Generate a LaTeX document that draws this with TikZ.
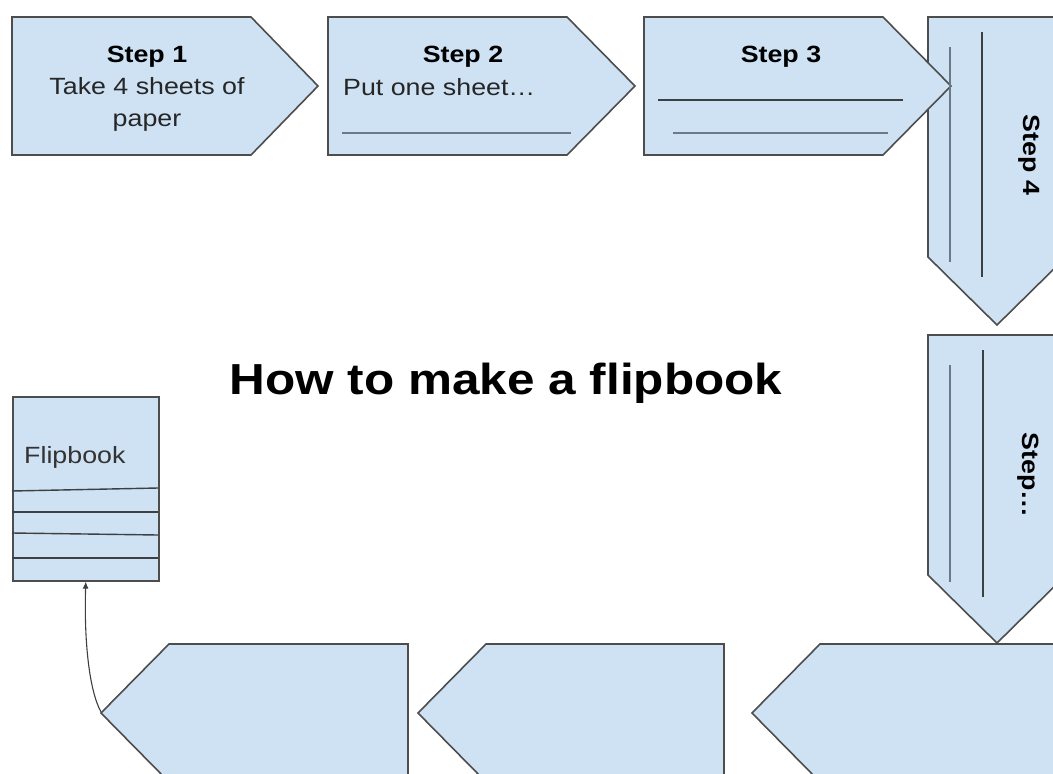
\documentclass[tikz,border=0pt]{standalone}
\usepackage{fontspec}
\setmainfont[FakeStretch=1.14]{Liberation Sans}
\usetikzlibrary{arrows.meta}
\definecolor{boxfill}{HTML}{CFE2F3}
\definecolor{boxline}{HTML}{4D4D4D}
\definecolor{graybar}{HTML}{6B7A86}
\definecolor{darkbar}{HTML}{3C4043}
\tikzset{
  stepshape/.style={draw=boxline, fill=boxfill, line width=1.6pt, line join=miter},
  thickbar/.style={draw=graybar, line width=2.6pt},
  thinbar/.style={draw=darkbar, line width=1.4pt},
  booksep/.style={draw=darkbar, line width=1.4pt},
  steptitle/.style={font=\fontsize{23.5}{32}\selectfont\bfseries, inner sep=0pt},
  stepbody/.style={font=\fontsize{23.5}{32}\selectfont, inner sep=0pt, text=black!85},
  conn/.style={draw=darkbar, line width=1.1pt, -{Latex[length=7pt,width=6pt]}}
}
\begin{document}
\begin{tikzpicture}[x=1pt,y=-1pt]
\useasboundingbox (0,0) rectangle (1053,774);
\clip (0,0) rectangle (1053,774);
\fill[white] (0,0) rectangle (1053,774);

% Step 1
\draw[stepshape] (12,17) -- (251,17) -- (318,86) -- (251,155) -- (12,155) -- cycle;
\node[steptitle, anchor=base] (s1t) at (147,62) {Step 1};
\node[stepbody, anchor=base, align=center] (s1b) at (147,126) {Take 4 sheets of\\paper};

% Step 2
\draw[stepshape] (328,17) -- (567,17) -- (635,86) -- (567,155) -- (328,155) -- cycle;
\node[steptitle, anchor=base] (s2t) at (463,62) {Step 2};
\node[stepbody, anchor=base west] (s2b) at (343,95) {Put one sheet…};
\draw[thickbar] (342,133) -- (571,133);

% Step 4
\draw[stepshape] (928,17) -- (1066,17) -- (1066,257) -- (997,325) -- (928,257) -- cycle;
\node[steptitle, rotate=-90] (s4t) at (1029,155) {Step 4};

% Step 3 (drawn over step 4)
\draw[stepshape] (644,17) -- (883,17) -- (951,86) -- (883,155) -- (644,155) -- cycle;
\node[steptitle, anchor=base] (s3t) at (781,62) {Step 3};
\draw[thinbar] (658,100) -- (903,100);
\draw[thickbar] (673,133) -- (888,133);

\draw[thickbar] (950,47) -- (950,262);
\draw[thinbar] (982,32) -- (982,277);

% Step ...
\draw[stepshape] (928,335) -- (1066,335) -- (1066,575) -- (997,643) -- (928,575) -- cycle;
\node[steptitle, rotate=-90] (s5t) at (1028,475) {Step…};
\draw[thickbar] (950,365) -- (950,582);
\draw[thinbar] (983,350) -- (983,597);

% Bottom row (pointing left)
\draw[stepshape] (1059,644) -- (820,644) -- (752,713) -- (820,782) -- (1059,782) -- cycle;
\draw[stepshape] (724,644) -- (486,644) -- (418,713) -- (486,782) -- (724,782) -- cycle;
\draw[stepshape] (408,644) -- (169,644) -- (101,713) -- (169,782) -- (408,782) -- cycle;
\coordinate (bltip) at (101,712);

% Title
\node[font=\fontsize{43.4}{50}\selectfont\bfseries, inner sep=0pt] (title) at (506,383) {How to make a flipbook};

% Flipbook
\node[draw=boxline, fill=boxfill, line width=1.6pt, minimum width=146pt, minimum height=184pt, inner sep=0pt, anchor=north west] (flip) at (12,396) {};
\node[stepbody, anchor=west, text=black!80] (fliplabel) at (24,457) {Flipbook};
\draw[booksep] (12,491) -- (158,488);
\draw[booksep] (12,512) -- (158,512);
\draw[booksep] (12,533) -- (158,535);
\draw[booksep] (12,558) -- (158,558);

% Connector
\draw[conn] (bltip) .. controls (89,690) and (84,640) .. (flip.south);
\end{tikzpicture}
\end{document}
